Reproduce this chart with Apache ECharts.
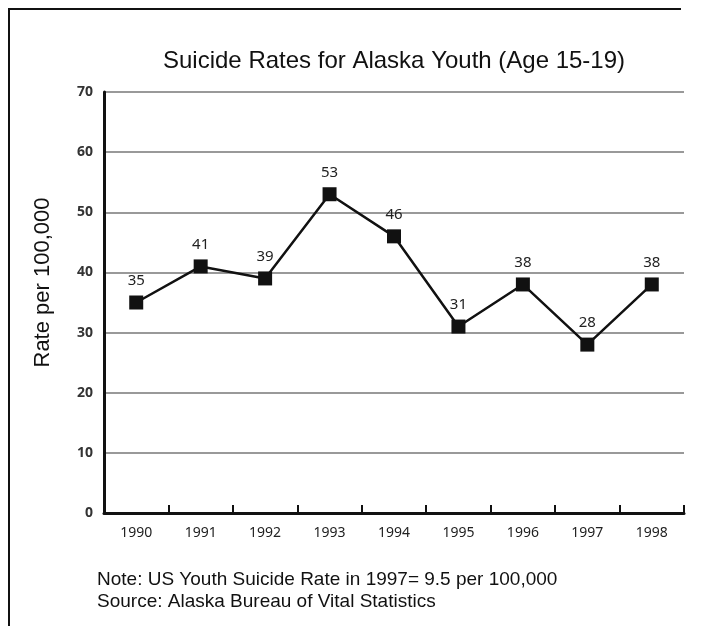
<!DOCTYPE html>
<html>
<head>
<meta charset="utf-8">
<script src="https://cdn.jsdelivr.net/npm/echarts@6/dist/echarts.min.js"></script>
<style>
html,body{margin:0;padding:0;background:#fff;}
#chart{width:726px;height:626px;}
</style>
</head>
<body>
<div id="chart"></div>
<script>
var years = ['1990','1991','1992','1993','1994','1995','1996','1997','1998'];
var rates = [35, 41, 39, 53, 46, 31, 38, 28, 38];
var yTicks = {min: 0, max: 70, interval: 10};
var titleText = 'Suicide Rates for Alaska Youth (Age 15-19)';
var yAxisName = 'Rate per 100,000';
var noteLines = ['Note: US Youth Suicide Rate in 1997= 9.5 per 100,000', 'Source: Alaska Bureau of Vital Statistics'];

var chart = echarts.init(document.getElementById('chart'), null, {renderer: 'canvas'});
chart.setOption({
  backgroundColor: '#fff',
  animation: false,
  title: [{
    text: titleText,
    left: 158, top: 44,
    textStyle: {fontFamily: 'Liberation Sans', fontSize: 24, fontWeight: 'normal', color: '#111'}
  }, {
    text: noteLines.join('\n'),
    left: 92, top: 564,
    textStyle: {fontFamily: 'Liberation Sans', fontSize: 19, fontWeight: 'normal', color: '#111', lineHeight: 22}
  }],
  graphic: [
    {type: 'line', shape: {x1: 8, y1: 9, x2: 681, y2: 9}, style: {stroke: '#111', lineWidth: 2}},
    {type: 'line', shape: {x1: 9, y1: 8, x2: 9, y2: 626}, style: {stroke: '#111', lineWidth: 2}}
  ],
  grid: {left: 104, top: 92, right: 42, bottom: 113},
  xAxis: {
    type: 'category',
    data: years,
    boundaryGap: true,
    axisLine: {lineStyle: {color: '#111', width: 3}},
    axisTick: {show: true, inside: true, length: 8, lineStyle: {color: '#111', width: 2}},
    axisLabel: {margin: 13, fontFamily: 'Noto Sans', fontSize: 14, color: '#222'}
  },
  yAxis: {
    type: 'value',
    min: yTicks.min, max: yTicks.max, interval: yTicks.interval,
    name: yAxisName,
    nameLocation: 'middle',
    nameRotate: 90,
    nameGap: 50,
    nameTextStyle: {fontFamily: 'Liberation Sans', fontSize: 22, color: '#111', padding: [0, 0, 0, 40]},
    axisLine: {show: true, lineStyle: {color: '#111', width: 3}},
    axisTick: {show: false},
    axisLabel: {margin: 11, fontFamily: 'Noto Sans', fontSize: 14, fontWeight: 'bold', color: '#333'},
    splitLine: {show: true, lineStyle: {color: '#777', width: 1.5}}
  },
  series: [{
    type: 'line',
    data: rates,
    symbol: 'rect',
    symbolSize: 14,
    lineStyle: {color: '#111', width: 2.5},
    itemStyle: {color: '#111'},
    label: {show: true, position: 'top', distance: 7, fontFamily: 'Noto Sans', fontSize: 15, color: '#222'}
  }]
});
</script>
</body>
</html>
